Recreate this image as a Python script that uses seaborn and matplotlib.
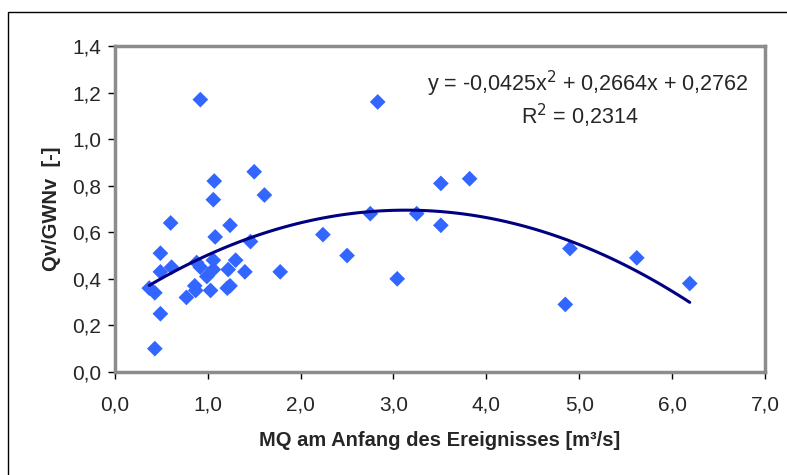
import matplotlib
matplotlib.use("Agg")
import matplotlib.pyplot as plt
import seaborn as sns
import pandas as pd
from matplotlib.ticker import FuncFormatter, MultipleLocator
from matplotlib.patches import Rectangle

# --- data ---
mq = [0.92, 0.43, 0.49, 0.37, 0.43, 0.49, 0.49, 0.61, 0.60, 0.77,
      0.86, 0.87, 0.88, 0.92, 0.99, 1.03, 1.06, 1.06, 1.08, 1.06,
      1.07, 1.21, 1.24, 1.22, 1.30, 1.24, 1.40, 1.46, 1.50, 1.61,
      1.78, 2.24, 2.50, 2.75, 2.83, 3.04, 3.25, 3.51, 3.51, 3.82,
      4.85, 4.90, 5.62, 6.19]
qv = [1.17, 0.10, 0.25, 0.36, 0.34, 0.51, 0.43, 0.45, 0.64, 0.32,
      0.37, 0.35, 0.47, 0.45, 0.41, 0.35, 0.48, 0.44, 0.58, 0.74,
      0.82, 0.36, 0.37, 0.44, 0.48, 0.63, 0.43, 0.56, 0.86, 0.76,
      0.43, 0.59, 0.50, 0.68, 1.16, 0.40, 0.68, 0.81, 0.63, 0.83,
      0.29, 0.53, 0.49, 0.38]

df = pd.DataFrame({"MQ": mq, "QV": qv})

sns.set_style("white")
plt.rcParams["font.family"] = ["Liberation Sans", "DejaVu Sans"]

fig = plt.figure(figsize=(7.87, 4.75), dpi=100)
ax = fig.add_axes([0.146, 0.217, 0.826, 0.686])

# quadratic trend line fitted by seaborn (Excel: polynomial order 2)
sns.regplot(data=df, x="MQ", y="QV", order=2, ci=None, ax=ax,
            marker="D", truncate=True,
            scatter_kws={"s": 64, "color": "#3366FF", "edgecolor": "none", "alpha": 1},
            line_kws={"color": "#000080", "lw": 2.2})

ax.set_xlim(0, 7)
ax.set_ylim(0, 1.4)
ax.xaxis.set_major_locator(MultipleLocator(1))
ax.yaxis.set_major_locator(MultipleLocator(0.2))
comma = FuncFormatter(lambda v, p: f"{v:.1f}".replace(".", ","))
ax.xaxis.set_major_formatter(comma)
ax.yaxis.set_major_formatter(comma)
ax.tick_params(axis="both", direction="out", length=5, width=1, color="black",
               labelsize=15, bottom=True, left=True)
ax.tick_params(axis="x", pad=12)
ax.tick_params(axis="y", pad=5)

for s in ax.spines.values():
    s.set_color("#8c8c8c")
    s.set_linewidth(2.5)

ax.set_xlabel("MQ am Anfang des Ereignisses [m³/s]", fontsize=14.5, fontweight="bold", labelpad=12)
ax.set_ylabel("Qv/GWNv  [-]", fontsize=14.5, fontweight="bold", labelpad=8)

ax.text(0.975, 0.885, "y = -0,0425x$^2$ + 0,2664x + 0,2762", transform=ax.transAxes,
        ha="right", va="center", fontsize=15.5)
ax.text(0.715, 0.785, "R$^2$ = 0,2314", transform=ax.transAxes,
        ha="center", va="center", fontsize=15.5)

# outer chart frame
fig.patches.append(Rectangle((0.010, -0.05), 1.05, 1.025, transform=fig.transFigure,
                             fill=False, edgecolor="black", lw=1))

fig.savefig("out.png", dpi=100)
